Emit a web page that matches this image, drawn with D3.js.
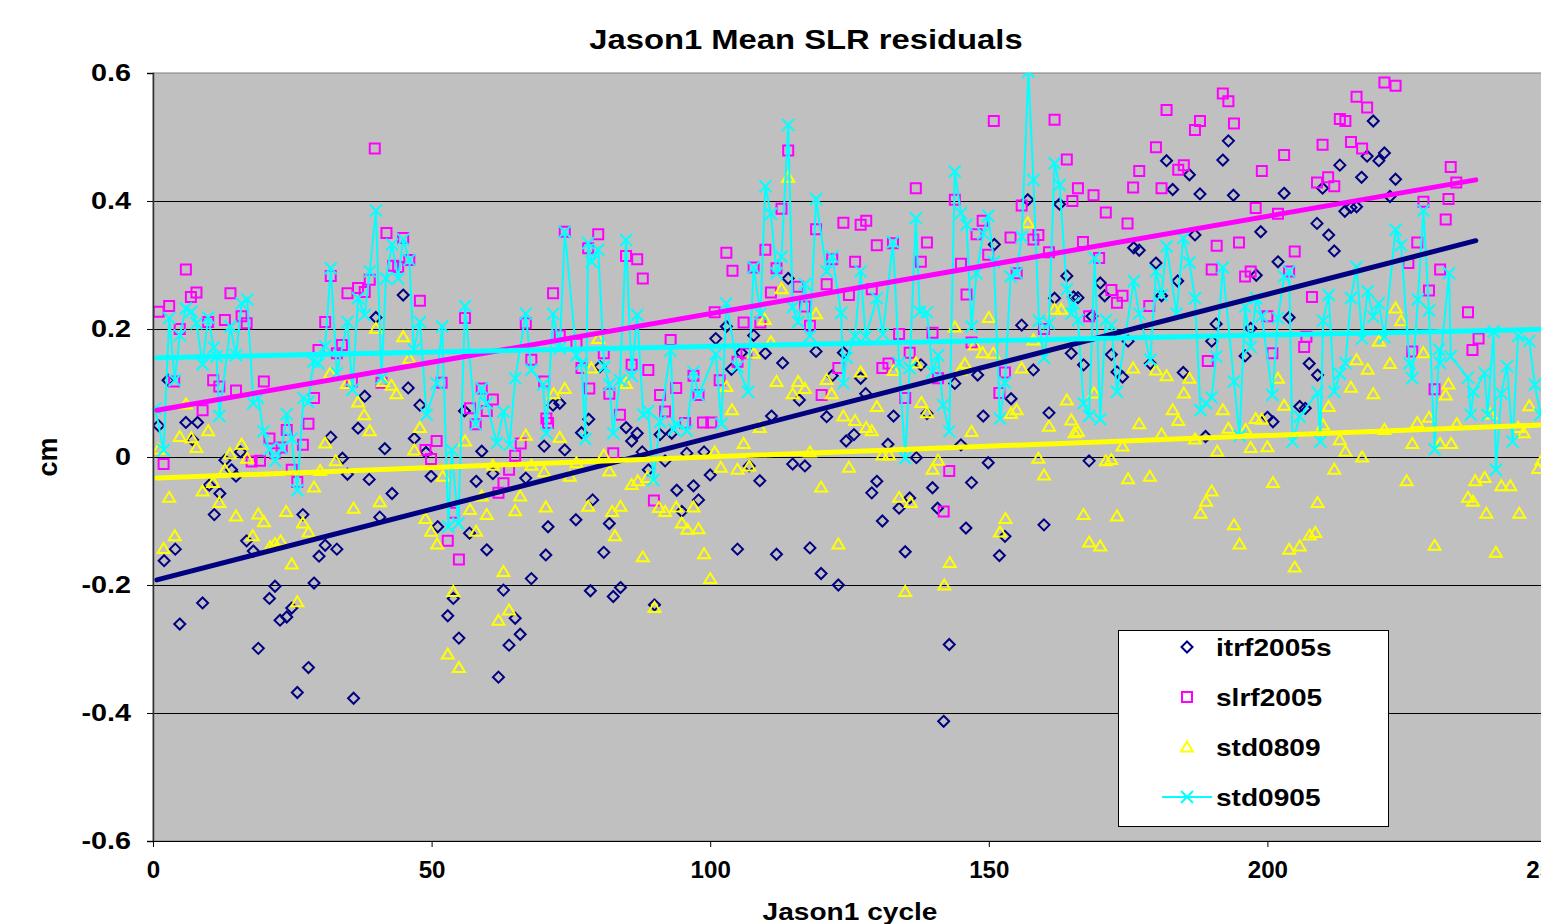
<!DOCTYPE html>
<html>
<head>
<meta charset="utf-8">
<script src="https://cdn.jsdelivr.net/npm/d3@7"></script>
<style>
  body { margin: 0; background: #fff; }
  text { font-family: "Liberation Sans", Arial, sans-serif; font-weight: bold; }
</style>
</head>
<body>
<svg id="svg1"></svg>
<script>
// chart data: [cycle, residual in cm]
const itrf2005s = [[1,0.049],[2,-0.162],[2.7,0.12],[4,-0.144],[4.8,-0.261],[5.9,0.054],[7.1,0.027],[8,0.054],[8.9,-0.228],[10.1,-0.044],[11,-0.09],[12,-0.057],[12.9,-0.005],[14.1,-0.02],[14.9,-0.03],[15.7,0.008],[16.8,-0.131],[18,-0.147],[18.9,-0.299],[20.9,-0.221],[21.9,-0.202],[22.8,-0.255],[24,-0.25],[24.9,-0.236],[25.9,-0.368],[26.9,-0.09],[27.9,-0.329],[28.9,-0.197],[29.8,-0.155],[30.9,-0.138],[31.9,0.031],[33,-0.144],[34,-0.002],[34.9,-0.027],[36,-0.377],[36.8,0.045],[38,0.095],[38.8,-0.035],[40,0.218],[40.7,-0.094],[41.6,0.013],[42.9,-0.057],[44.9,0.253],[45.8,0.108],[46.9,0.029],[47.9,0.081],[49,0.007],[49.9,-0.03],[51.1,-0.109],[52.9,-0.248],[53.9,-0.221],[54.9,-0.283],[55.9,0.072],[56.8,-0.119],[58,-0.038],[59,0.009],[59.9,-0.145],[61,-0.026],[62,-0.344],[62.9,-0.208],[63.9,-0.294],[65,-0.252],[65.9,-0.277],[66.9,-0.033],[67.9,-0.19],[70.2,0.017],[70.5,-0.153],[70.9,-0.109],[71.8,0.081],[73,0.084],[73.9,0.011],[75.9,-0.098],[76.9,0.038],[78.2,0.059],[78.5,-0.209],[78.9,-0.067],[80.2,0.141],[80.9,-0.149],[81.9,-0.104],[82.6,-0.218],[83.9,-0.204],[84.9,0.046],[85.9,0.025],[86.9,0.037],[87.8,0.008],[88.9,-0.02],[90,-0.231],[91,0.035],[91.9,-0.006],[93.1,0.037],[94,-0.052],[94.9,-0.085],[95.8,0.006],[97,-0.045],[97.9,-0.067],[98.9,0.008],[100,-0.028],[101,0.185],[102.9,0.204],[103.8,0.137],[104.9,-0.144],[105.6,0.163],[107,-0.014],[107.8,0.19],[108.9,-0.037],[109.9,0.162],[111,0.064],[111.9,-0.152],[113,0.147],[114,0.279],[114.8,-0.011],[116,0.089],[117,-0.014],[117.9,-0.142],[119,0.165],[119.9,-0.182],[120.9,0.063],[121.9,0.127],[123,-0.2],[123.9,0.163],[124.4,0.025],[125.8,0.035],[127,0.123],[127.9,0.099],[129,-0.056],[129.9,-0.038],[130.9,-0.1],[131.9,0.02],[132.9,0.064],[133.9,-0.08],[135,-0.148],[135.8,-0.064],[137,-0.001],[137.8,0.144],[138.9,0.068],[139.9,-0.048],[140.8,-0.08],[141.9,-0.413],[142.9,-0.293],[143.9,0.115],[145,0.019],[145.9,-0.111],[146.9,-0.04],[148,0.128],[149,0.064],[149.9,-0.009],[151,0.332],[151.9,-0.154],[152.9,-0.124],[154,0.091],[155.9,0.206],[157,0.402],[158,0.136],[159.9,-0.106],[160.8,0.069],[161.8,0.248],[162.7,0.395],[164,0.283],[164.8,0.162],[165.2,0.25],[166,0.249],[167,0.144],[168,-0.006],[168.5,0.22],[170,0.272],[170.8,0.252],[172,0.16],[173,0.133],[174,0.125],[175,0.181],[176,0.327],[177,0.323],[179,0.146],[180,0.303],[181,0.252],[181.9,0.463],[183,0.418],[183.9,0.275],[184.9,0.132],[186,0.441],[187,0.347],[187.9,0.411],[188.9,0.032],[190,0.181],[190.8,0.208],[192,0.464],[193,0.494],[193.9,0.409],[196,0.158],[197,0.201],[198,0.284],[198.8,0.352],[200,0.062],[201,0.055],[201.9,0.305],[203,0.412],[203.9,0.218],[205.8,0.079],[206.8,0.076],[207.5,0.146],[208.9,0.365],[209,0.128],[209.9,0.42],[211,0.347],[212,0.322],[213,0.456],[213.9,0.384],[215,0.39],[216,0.391],[216.9,0.437],[217.9,0.47],[219,0.525],[220,0.463],[221,0.475],[222,0.407],[223,0.434]];

const slrf2005 = [[1,0.227],[1.9,-0.011],[2.9,0.236],[3.8,0.118],[4.8,0.2],[5.9,0.293],[6.8,0.25],[7.8,0.257],[8.9,0.073],[9.9,0.211],[10.8,0.12],[11.9,0.11],[12.9,0.214],[13.9,0.256],[14.9,0.104],[15.9,0.22],[16.8,0.209],[17.7,-0.007],[19.2,-0.006],[19.9,0.118],[20.9,0.029],[21.9,0.006],[23.1,0.015],[24,0.042],[24.9,-0.02],[25.9,-0.039],[26.9,0.019],[27.9,0.052],[28.9,0.092],[29.7,0.167],[30.9,0.211],[31.9,0.283],[33,0.162],[33.9,0.175],[34.9,0.256],[35.7,0.118],[36.8,0.264],[38,0.258],[38.9,0.277],[39.8,0.482],[41,0.116],[41.9,0.35],[43.1,0.299],[44,0.297],[44.9,0.342],[46,0.308],[47.9,0.244],[48.9,0.011],[49.9,-0.003],[50.9,0.025],[51.8,0.116],[52.9,-0.131],[53.9,-0.087],[54.9,-0.16],[56,0.217],[56.9,0.076],[57.9,0.051],[59,0.107],[59.9,0.072],[61,0.09],[62,-0.056],[62.9,-0.041],[63.9,-0.02],[65,0.002],[66,0.021],[66.9,0.209],[67.9,0.152],[70.2,0.118],[70.6,0.06],[70.9,0.053],[71.8,0.256],[73,0.19],[73.9,0.352],[76,0.177],[76.9,0.139],[78.1,0.326],[78.3,0.107],[79.9,0.348],[80.9,0.162],[81.9,0.099],[82.6,0.006],[83.8,0.066],[84.9,0.314],[85.9,0.144],[86.9,0.309],[87.9,0.279],[88.9,0.136],[89.9,-0.068],[91,0.097],[91.9,0.071],[92.9,0.183],[93.9,0.108],[95.5,0.053],[97,0.127],[97.9,0.097],[98.7,0.054],[100.2,0.054],[100.8,0.226],[101.7,0.12],[102.9,0.319],[104,0.291],[104.9,0.149],[106,0.21],[106.5,0.162],[107.8,0.296],[109,0.21],[109.9,0.324],[110.9,0.257],[111.9,0.295],[112.8,0.388],[114,0.479],[115.8,0.266],[117,0.235],[117.9,0.205],[119,0.356],[120,0.097],[120.9,0.27],[121.9,0.309],[123,0.139],[123.9,0.366],[124.9,0.253],[126,0.305],[127,0.363],[128,0.369],[129,0.262],[129.9,0.331],[130.9,0.139],[132,0.146],[132.8,0.334],[133.9,0.192],[135,0.092],[135.8,0.163],[136.9,0.42],[137.8,0.305],[138.9,0.335],[139.9,0.194],[140.9,0.123],[141.9,-0.085],[142.9,-0.022],[143.9,0.402],[145,0.302],[146,0.254],[146.9,0.179],[147.8,0.348],[148.9,0.369],[149.9,0.316],[150.9,0.525],[151.9,0.1],[152.9,0.132],[153.9,0.343],[155,0.287],[155.9,0.393],[158,0.34],[158.9,0.347],[159.9,0.2],[160.8,0.32],[161.8,0.527],[164,0.465],[165,0.4],[166,0.42],[166.9,0.336],[168,0.22],[168.8,0.409],[169.8,0.311],[171,0.382],[172,0.261],[173,0.241],[174,0.252],[174.9,0.365],[175.9,0.421],[177,0.447],[178.8,0.236],[180,0.484],[181,0.42],[181.9,0.542],[184,0.449],[185,0.456],[187,0.511],[187.9,0.525],[189.3,0.15],[190,0.293],[190.9,0.33],[192,0.568],[193,0.556],[194,0.521],[194.9,0.335],[196,0.282],[197,0.29],[197.9,0.389],[199,0.447],[200,0.22],[200.9,0.162],[201.9,0.38],[203,0.472],[203.9,0.29],[204.9,0.321],[206.6,0.172],[207,0.188],[208,0.25],[208.9,0.429],[209.9,0.488],[210.9,0.437],[212,0.423],[213,0.528],[214,0.525],[215,0.492],[216,0.563],[217,0.482],[217.9,0.546],[221,0.585],[223,0.58],[225.3,0.303],[226,0.165],[226.9,0.335],[228,0.399],[229,0.26],[230,0.106],[231,0.293],[232,0.371],[232.5,0.403],[232.9,0.453],[233.9,0.429],[236,0.226],[236.8,0.167],[237.9,0.185]];

const std0809 = [[1,0.012],[1.9,-0.143],[2.9,-0.063],[3.9,-0.123],[4.8,0.032],[5.9,0.083],[6.9,0.03],[7.8,0.015],[8.9,-0.053],[9.9,0.041],[10.8,-0.04],[11.9,-0.071],[12.9,-0.02],[13.8,0.005],[14.9,-0.092],[15.9,0.02],[16.9,-0.002],[17.9,-0.123],[18.9,-0.089],[19.9,-0.101],[21,-0.14],[21.9,-0.135],[22.9,-0.131],[23.9,-0.085],[24.9,-0.167],[25.9,-0.226],[26.9,-0.103],[27.9,-0.117],[28.9,-0.047],[30,-0.021],[30.9,0.022],[31.8,0.131],[32.8,-0.006],[34.8,0.115],[36,-0.08],[36.8,0.086],[37.9,0.066],[38.9,0.041],[40,0.201],[40.7,-0.07],[41.3,0.118],[42.8,0.112],[43.7,0.099],[44.9,0.188],[46,0.154],[46.9,0.011],[47.9,0.046],[48.9,-0.096],[49.9,-0.116],[51,-0.136],[52,-0.03],[52.9,-0.308],[53.9,-0.21],[54.9,-0.329],[56,0.025],[56.9,-0.082],[58,-0.116],[59,-0.061],[59.9,-0.09],[61,-0.013],[62,-0.255],[62.9,-0.179],[63.9,-0.239],[65,-0.084],[65.9,-0.061],[66.9,0.034],[67.9,-0.013],[70.2,-0.023],[70.5,-0.078],[71.9,0.099],[73,0.031],[73.9,0.107],[74.8,-0.03],[76,-0.009],[78.1,-0.077],[78.7,0.139],[79.9,0.185],[80.9,0.003],[81.9,-0.022],[82.4,-0.085],[82.9,-0.123],[83.9,-0.077],[84.9,0.115],[85.9,-0.043],[87,-0.037],[87.9,-0.156],[88.7,-0.032],[90,-0.235],[90.8,-0.079],[91.9,-0.085],[93.9,-0.078],[94.9,-0.103],[95.9,-0.113],[97,-0.078],[97.9,-0.112],[98.9,-0.151],[100,-0.19],[100.8,0.008],[101.9,-0.016],[102.9,0.11],[103.9,0.074],[104.9,-0.019],[106,0.021],[107,-0.014],[107.8,0.162],[108.9,0.046],[109.8,0.215],[110.9,0.18],[111.9,0.118],[112.8,0.263],[114,0.437],[114.8,0.099],[115.8,0.118],[117,0.107],[117.9,0.008],[119,0.224],[119.9,-0.047],[120.9,0.121],[121.8,0.099],[123,-0.136],[123.9,0.064],[124.9,-0.016],[126,0.057],[127,0.133],[128,0.046],[129,0.041],[129.9,0.079],[130.9,0.003],[132.1,0.003],[132.9,0.135],[133.9,-0.063],[135,-0.21],[136,-0.071],[136.9,0.147],[137.9,0.085],[138.9,0.069],[139.9,-0.019],[140.9,-0.005],[142,-0.2],[143,-0.165],[143.9,0.203],[144.9,0.136],[145.7,0.146],[146.9,0.04],[147.5,0.175],[148.9,0.163],[150,0.218],[150.8,0.162],[152,-0.117],[153,-0.096],[154,0.068],[155,0.074],[155.9,0.139],[157,0.366],[158,0.183],[158.9,-0.002],[159.9,-0.028],[160.8,0.048],[161.8,0.231],[163,0.231],[164,0.089],[164.8,0.058],[165.4,0.038],[166,0.04],[167,-0.09],[168,-0.133],[168.9,0.1],[170,-0.139],[171,-0.006],[172,-0.004],[173,-0.092],[174,0.017],[175,-0.034],[175.9,0.139],[177,0.052],[178.9,-0.03],[180,0.136],[181,0.036],[181.9,0.127],[183,0.074],[184,0.057],[185,0.1],[186,0.123],[187,0.028],[188,-0.088],[189,-0.069],[190,-0.053],[191,0.009],[192,0.074],[193,0.045],[194,-0.106],[195,-0.136],[196.1,0.043],[197,0.015],[197.9,0.06],[199,0.059],[200,0.016],[201,-0.04],[201.9,0.123],[203,0.081],[203.9,-0.144],[204.9,-0.172],[205.8,-0.139],[207.6,-0.122],[208.6,-0.118],[209,-0.071],[210,0.05],[211,0.079],[212,-0.019],[213,0.027],[214,0.009],[215,0.109],[216,0.152],[217,0.0],[218,0.137],[219,0.099],[220,0.181],[221,0.043],[222,0.146],[223,0.233],[224,0.213],[225,-0.037],[226,0.021],[226.9,0.054],[228,0.163],[229,0.062],[230,-0.138],[231,0.021],[232,0.097],[232.5,0.114],[233,0.021],[234,0.052],[236,-0.063],[236.9,-0.069],[237.3,-0.037],[239,-0.032],[239.3,-0.088],[240,0.067],[241,-0.149],[242,-0.045],[243.6,-0.045],[245,0.046],[245.2,-0.088],[246,0.038],[247,0.08],[248.6,-0.018],[249.2,-0.005]];

const std0905 = [[0.4,0.076],[1.9,0.011],[2.9,0.217],[3.9,0.12],[4.8,0.19],[5.9,0.232],[6.9,0.227],[7.8,0.209],[8.9,0.145],[9.9,0.218],[10.9,0.171],[11.4,0.157],[11.9,0.064],[13.9,0.204],[14.9,0.159],[15.9,0.24],[16.9,0.246],[18,0.084],[18.9,0.092],[19.8,0.04],[20.9,0.012],[21.9,-0.006],[23.1,0.014],[24,0.067],[24.9,0.029],[25.9,-0.052],[27,0.092],[27.9,0.086],[28.8,0.149],[29.7,0.146],[30.9,0.173],[31.9,0.295],[33,0.131],[34.9,0.211],[35.8,0.105],[36.8,0.248],[38,0.222],[38.9,0.29],[40,0.385],[41,0.123],[41.8,0.279],[42.9,0.332],[44,0.279],[44.9,0.34],[46,0.308],[46.8,0.168],[47.9,0.211],[49.1,0.066],[50.9,0.115],[51.9,0.204],[53,-0.109],[53.6,0.011],[54.8,-0.104],[56,0.236],[57.9,0.051],[59,0.107],[59.9,0.084],[61.7,0.022],[62.9,0.071],[64,0.019],[65,0.123],[66.9,0.224],[67.9,0.136],[70,0.113],[70.6,0.037],[71.8,0.224],[73,0.17],[73.9,0.352],[76,0.159],[76.9,0.146],[77.6,0.028],[78.1,0.334],[78.7,0.305],[79.9,0.324],[81,0.141],[81.9,0.113],[82.6,0.037],[83.8,0.12],[84.9,0.339],[85.9,0.127],[86.9,0.222],[88,0.066],[88.9,0.072],[89.8,-0.036],[91,0.055],[92.9,0.166],[93.5,0.043],[94,0.052],[95.8,0.041],[97,0.133],[97.9,0.097],[101,0.161],[102,0.052],[102.9,0.24],[104.9,0.141],[106.8,0.102],[107.8,0.296],[109,0.224],[109.9,0.423],[110.9,0.38],[111.9,0.287],[112.8,0.313],[114,0.519],[114.8,0.234],[115.8,0.211],[117,0.27],[117.9,0.189],[119,0.403],[120.9,0.29],[121.9,0.313],[123.5,0.225],[123.9,0.115],[124.5,0.155],[126,0.189],[127,0.29],[127.9,0.188],[129.9,0.248],[131,0.192],[132.8,0.336],[133.9,0.147],[135,-0.002],[135.8,0.139],[136.9,0.373],[137.6,0.227],[138.9,0.226],[139.9,0.133],[140.9,0.159],[141.8,0.081],[142.9,0.04],[143.9,0.446],[145,0.381],[146,0.363],[146.9,0.204],[147.8,0.287],[149,0.349],[149.9,0.377],[150.9,0.305],[152,0.06],[152.9,0.116],[153.9,0.282],[155,0.287],[155.9,0.344],[157.1,0.602],[158,0.433],[159,0.213],[159.9,0.155],[160.8,0.209],[161.8,0.459],[162.7,0.425],[164,0.262],[164.8,0.224],[165.2,0.24],[166,0.214],[167,0.084],[168,0.064],[169,0.311],[170,0.059],[171,0.214],[172,0.206],[173,0.102],[176,0.275],[177,0.224],[179,0.152],[180,0.29],[181,0.253],[181.9,0.329],[183.7,0.224],[184.9,0.342],[186,0.304],[187,0.248],[188,0.073],[189,0.084],[190,0.093],[190.8,0.157],[192,0.296],[194,0.118],[195,0.033],[196,0.235],[197,0.172],[198,0.248],[199,0.22],[200.9,0.097],[201.9,0.217],[203,0.282],[203.9,0.29],[204.5,0.024],[205.8,0.063],[209,0.101],[209.5,0.024],[210,0.213],[211,0.253],[212,0.102],[213,0.13],[214,0.147],[215,0.248],[216,0.297],[217,0.185],[218,0.259],[219,0.219],[220,0.24],[221,0.187],[223,0.355],[224,0.331],[225.5,0.146],[226,0.123],[227,0.246],[228,0.385],[229,0.229],[230,0.012],[230.8,0.168],[231,0.147],[232.6,0.287],[232.9,0.157],[236,0.124],[236.5,0.066],[237,0.102],[239,0.131],[239.5,0.066],[240.6,0.196],[241,-0.02],[242,0.099],[243,0.142],[244,0.024],[245,0.189],[247,0.181],[248,0.113],[249,0.066],[251,0.15]];

// linear trend lines (end points)
const itrfTrend = [[0.7,-0.192],[237.4,0.338]];
const slrfTrend = [[0.7,0.073],[237.4,0.433]];
const std0809Trend = [[0.7,-0.033],[252,0.051]];
const std0905Trend = [[0.7,0.155],[252,0.2]];

const seriesNames = ['itrf2005s', 'slrf2005', 'std0809', 'std0905'];
const xTicks = [0, 50, 100, 150, 200, 250];
const yTicks = [-0.6, -0.4, -0.2, 0, 0.2, 0.4, 0.6];

// layout
const margin = {top: 73, right: 0, bottom: 83, left: 153};
const width = 1393;   // cycle 0..250
const height = 768;   // -0.6..0.6

const colors = {itrf2005s: '#000080', slrf2005: '#ff00ff', std0809: '#ffff00', std0905: '#00ffff'};
const markers = {
  itrf2005s: 'M0,-5.5L5.5,0L0,5.5L-5.5,0Z',
  slrf2005: 'M-5,-5H5V5H-5Z',
  std0809: 'M0,-5.5L6,4.5L-6,4.5Z',
  std0905: 'M-6,-6L6,6M-6,6L6,-6'
};

// the original chart's text is stretched sideways
function stretch(sel, factor) {
  sel.each(function() {
    const w = this.getComputedTextLength();
    d3.select(this)
        .attr('textLength', w * factor)
        .attr('lengthAdjust', 'spacingAndGlyphs');
  });
}

const root = d3.select('#svg1')
    .attr('width', 1541)
    .attr('height', 924);

const svg = root.append('g')
    .attr('transform', 'translate(' + margin.left + ',' + margin.top + ')');

const x = d3.scaleLinear().domain([0, 250]).range([0, width]);
const y = d3.scaleLinear().domain([-0.6, 0.6]).range([height, 0]);

// plot area
svg.append('rect')
    .attr('width', width)
    .attr('height', height)
    .attr('fill', '#c0c0c0')
    .attr('stroke', '#808080')
    .attr('stroke-width', 1);

// gridlines
svg.append('g')
    .selectAll('line')
    .data(yTicks.filter(d => d > -0.6 && d < 0.6))
    .enter()
    .append('line')
    .attr('x1', 0)
    .attr('x2', width)
    .attr('y1', d => Math.round(y(d)) + 0.5)
    .attr('y2', d => Math.round(y(d)) + 0.5)
    .attr('stroke', '#000')
    .attr('stroke-width', 1);

svg.append('clipPath').attr('id', 'plotclip')
    .append('rect').attr('width', width).attr('height', height);

const plot = svg.append('g').attr('clip-path', 'url(#plotclip)');

function drawMarkers(name, data) {
  plot.append('g')
      .selectAll('path')
      .data(data)
      .enter()
      .append('path')
      .attr('transform', d => 'translate(' + x(d[0]) + ',' + y(d[1]) + ')')
      .attr('d', markers[name])
      .attr('fill', 'none')
      .attr('stroke', colors[name])
      .attr('stroke-width', 2);
}

drawMarkers('itrf2005s', itrf2005s);
drawMarkers('slrf2005', slrf2005);
drawMarkers('std0809', std0809);

// std0905 is joined by a line
const line = d3.line().x(d => x(d[0])).y(d => y(d[1]));
plot.append('path')
    .datum(std0905)
    .attr('d', line)
    .attr('fill', 'none')
    .attr('stroke', colors.std0905)
    .attr('stroke-width', 2);
drawMarkers('std0905', std0905);

// trend lines
[[itrfTrend, 'itrf2005s'], [slrfTrend, 'slrf2005'], [std0809Trend, 'std0809'], [std0905Trend, 'std0905']]
  .forEach(function(t) {
    plot.append('path')
        .datum(t[0])
        .attr('d', line)
        .attr('stroke', colors[t[1]])
        .attr('stroke-width', 5)
        .attr('stroke-linecap', 'round');
  });

// axes
const yAxis = svg.append('g')
    .call(d3.axisLeft(y)
        .tickValues(yTicks)
        .tickSize(6)
        .tickPadding(16)
        .tickFormat(d => d === 0 ? '0' : d.toFixed(1)));
yAxis.selectAll('text').style('font-size', '23px').attr('fill', '#000').call(stretch, 1.25);
yAxis.select('.domain').attr('stroke', '#333').attr('stroke-width', 1.5);

const xAxis = svg.append('g')
    .attr('transform', 'translate(0,' + height + ')')
    .call(d3.axisBottom(x)
        .tickValues(xTicks)
        .tickSize(6)
        .tickPadding(15)
        .tickFormat(d3.format('d')));
xAxis.selectAll('text').style('font-size', '23px').attr('fill', '#000').call(stretch, 1.05);
xAxis.select('.domain').attr('stroke', '#000');

// titles
root.append('text')
    .attr('x', 806)
    .attr('y', 49)
    .attr('text-anchor', 'middle')
    .style('font-size', '28px')
    .text('Jason1 Mean SLR residuals')
    .call(stretch, 1.17);

root.append('text')
    .attr('x', 850)
    .attr('y', 920)
    .attr('text-anchor', 'middle')
    .style('font-size', '24px')
    .text('Jason1 cycle')
    .call(stretch, 1.17);

root.append('text')
    .attr('transform', 'translate(57,457)rotate(-90)')
    .attr('text-anchor', 'middle')
    .style('font-size', '27px')
    .text('cm');

// legend
const legend = root.append('g').attr('transform', 'translate(1118,630)');
legend.append('rect')
    .attr('x', 0.5)
    .attr('y', 0.5)
    .attr('width', 270)
    .attr('height', 196)
    .attr('fill', '#fff')
    .attr('stroke', '#000');

seriesNames.forEach(function(name, i) {
  const row = legend.append('g').attr('transform', 'translate(0,' + (17 + i * 50) + ')');
  if (name === 'std0905') {
    row.append('line')
        .attr('x1', 44).attr('x2', 94)
        .attr('stroke', colors[name]).attr('stroke-width', 2);
  }
  row.append('path')
      .attr('transform', 'translate(69,0)')
      .attr('d', markers[name])
      .attr('fill', 'none')
      .attr('stroke', colors[name])
      .attr('stroke-width', 2);
  row.append('text')
      .attr('x', 98)
      .attr('y', 9)
      .style('font-size', '24px')
      .text(name)
      .call(stretch, 1.17);
});
</script>
</body>
</html>
